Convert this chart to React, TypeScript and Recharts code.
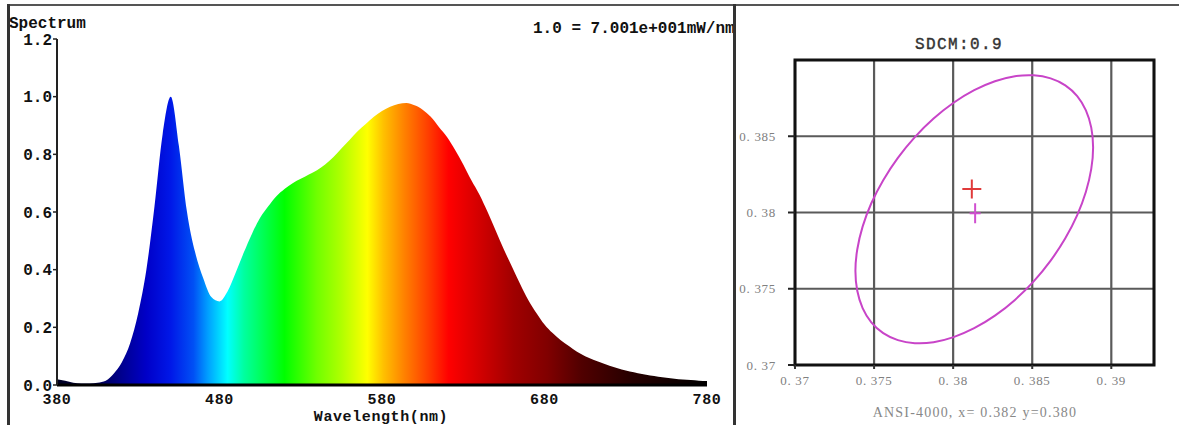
import React from 'react'
import {
    Area,
    AreaChart,
    CartesianGrid,
    ComposedChart,
    Line,
    ReferenceArea,
    ReferenceDot,
    XAxis,
    YAxis,
} from 'recharts'

// spectrum, 5 nm steps
const wavelengths = [
    380, 385, 390, 395, 400, 405, 410, 415, 420, 425, 430, 435, 440, 445, 450, 455, 460, 465, 470, 475,
    480, 485, 490, 495, 500, 505, 510, 515, 520, 525, 530, 535, 540, 545, 550, 555, 560, 565, 570, 575,
    580, 585, 590, 595, 600, 605, 610, 615, 620, 625, 630, 635, 640, 645, 650, 655, 660, 665, 670, 675,
    680, 685, 690, 695, 700, 705, 710, 715, 720, 725, 730, 735, 740, 745, 750, 755, 760, 765, 770, 775, 780,
]
const intensities = [
    0.02, 0.015, 0.008, 0.005, 0.005, 0.008, 0.015, 0.04, 0.08, 0.145, 0.25, 0.4, 0.62, 0.87, 1.0, 0.83, 0.6, 0.46, 0.37, 0.305,
    0.29, 0.325, 0.39, 0.46, 0.525, 0.58, 0.62, 0.655, 0.68, 0.7, 0.715, 0.73, 0.745, 0.765, 0.79, 0.82, 0.85, 0.88, 0.905, 0.93,
    0.95, 0.965, 0.975, 0.978, 0.97, 0.955, 0.93, 0.895, 0.86, 0.815, 0.765, 0.71, 0.66, 0.6, 0.535, 0.47, 0.41, 0.35, 0.295, 0.25,
    0.21, 0.18, 0.155, 0.135, 0.115, 0.1, 0.088, 0.077, 0.067, 0.058, 0.05, 0.044, 0.038, 0.033, 0.029, 0.025, 0.022, 0.019, 0.017, 0.015, 0.014,
]
const wavelengthTicks = [380, 480, 580, 680, 780]
const intensityTicks = [0, 0.2, 0.4, 0.6, 0.8, 1.0, 1.2]

// fill colour by wavelength
const gradientNm = [380, 405, 420, 435, 450, 464, 473, 485, 495, 505, 520, 540, 555, 571, 581, 594, 608, 621, 641, 661, 682, 703, 734, 780]
const gradientColors = [
    '#000020', '#000050', '#000090', '#0000c8', '#0018e8', '#0050f5', '#00a0ff', '#00ffff', '#00ffa0', '#00ff60',
    '#00ff00', '#70ff00', '#b0ff00', '#ffff00', '#ffc000', '#ff8000', '#ff4000', '#ff0000', '#d00000', '#a00000',
    '#800000', '#500000', '#250000', '#000000',
]

// SDCM ellipse (CIE x, y)
const ellipseX = [
    0.38889, 0.38877, 0.38843, 0.38788, 0.38712, 0.38619, 0.38511, 0.38392, 0.38265, 0.38133, 0.38002, 0.37875,
    0.37756, 0.37648, 0.37555, 0.37479, 0.37424, 0.3739, 0.37378, 0.3739, 0.37424, 0.37479, 0.37555, 0.37648,
    0.37756, 0.37875, 0.38002, 0.38133, 0.38265, 0.38392, 0.38511, 0.38619, 0.38712, 0.38788, 0.38843, 0.38877,
]
const ellipseY = [
    0.38429, 0.38287, 0.38136, 0.37983, 0.3783, 0.37683, 0.37546, 0.37424, 0.3732, 0.37237, 0.37179, 0.37145,
    0.37139, 0.37159, 0.37205, 0.37276, 0.3737, 0.37484, 0.37614, 0.37756, 0.37907, 0.38061, 0.38213, 0.3836,
    0.38497, 0.38619, 0.38723, 0.38806, 0.38865, 0.38898, 0.38904, 0.38884, 0.38838, 0.38767, 0.38673, 0.38559,
]
const cieTicksX = [0.37, 0.375, 0.38, 0.385, 0.39]
const cieTicksY = [0.37, 0.375, 0.38, 0.385]
const measuredXY = [0.38118, 0.38154]
const targetXY = [0.38139, 0.37995]

const spectrum = wavelengths.map((nm, i) => ({ nm, value: intensities[i] }))
const ellipse = ellipseX.map((x, i) => ({ x, y: ellipseY[i] }))

const monoBold = { fontFamily: '"Liberation Mono", monospace', fontWeight: 'bold' as const, fontSize: 16, fill: '#111' }
const monoBoldSmall = { ...monoBold, fontSize: 15, letterSpacing: 0.6 }
const serifGray = { fontFamily: '"Liberation Serif", serif', fontSize: 13, fill: '#808080', letterSpacing: 0.7 }

const Plus = (props: any) => {
    const { cx, cy, w, h, color } = props
    if (cx == null || cy == null) return null
    return (
        <g>
            <line x1={cx - w / 2} y1={cy} x2={cx + w / 2} y2={cy} stroke={color} strokeWidth={2} />
            <line x1={cx} y1={cy - h / 2} x2={cx} y2={cy + h / 2} stroke={color} strokeWidth={2} />
        </g>
    )
}

const dotted = (v: number) => String(v).replace('.', '. ')

export default function App() {
    return (
        <div style={{ position: 'absolute', left: 0, top: 0, width: 1179, height: 425, background: '#fff', overflow: 'hidden' }}>
            <div style={{ position: 'absolute', left: 0, top: 0 }}>
                <AreaChart width={734} height={425} data={spectrum} margin={{ top: 39, right: 27, bottom: 10, left: 8 }}>
                    <defs>
                        <linearGradient id="spec" x1="0" y1="0" x2="1" y2="0">
                            {gradientNm.map((nm, i) => (
                                <stop key={nm} offset={(nm - 380) / 400} stopColor={gradientColors[i]} />
                            ))}
                        </linearGradient>
                    </defs>
                    <XAxis
                        dataKey="nm"
                        type="number"
                        domain={[380, 780]}
                        ticks={wavelengthTicks}
                        height={30}
                        tickLine={false}
                        tickSize={5}
                        tickMargin={3}
                        axisLine={{ stroke: '#000', strokeWidth: 3 }}
                        tick={monoBoldSmall}
                    />
                    <YAxis
                        type="number"
                        domain={[0, 1.2]}
                        ticks={intensityTicks}
                        width={49}
                        tickSize={4}
                        tickMargin={1}
                        tickFormatter={(v: number) => v.toFixed(1)}
                        axisLine={{ stroke: '#222', strokeWidth: 2 }}
                        tickLine={{ stroke: '#222', strokeWidth: 1.5 }}
                        tick={monoBold}
                    />
                    <Area
                        type="monotone"
                        dataKey="value"
                        stroke="none"
                        fill="url(#spec)"
                        fillOpacity={1}
                        isAnimationActive={false}
                    />
                </AreaChart>
            </div>
            <div style={{ position: 'absolute', left: 734, top: 0 }}>
                <ComposedChart width={445} height={425} data={ellipse} margin={{ top: 60, right: 25, bottom: 30, left: 0 }}>
                    <CartesianGrid stroke="#5a5a5a" strokeWidth={2.2} />
                    <XAxis
                        dataKey="x"
                        type="number"
                        domain={[0.37, 0.3927]}
                        allowDataOverflow
                        ticks={cieTicksX}
                        height={30}
                        tickSize={4}
                        tickMargin={7}
                        axisLine={false}
                        tickLine={{ stroke: '#333', strokeWidth: 2 }}
                        tickFormatter={dotted}
                        tick={serifGray}
                    />
                    <YAxis
                        dataKey="y"
                        type="number"
                        domain={[0.37, 0.39]}
                        allowDataOverflow
                        ticks={cieTicksY}
                        width={61}
                        tickSize={7}
                        tickMargin={12}
                        axisLine={false}
                        tickLine={{ stroke: '#222', strokeWidth: 2 }}
                        tickFormatter={dotted}
                        tick={serifGray}
                    />
                    <ReferenceArea
                        x1={0.37}
                        x2={0.3927}
                        y1={0.37}
                        y2={0.39}
                        fill="none"
                        fillOpacity={0}
                        stroke="#111"
                        strokeWidth={3}
                    />
                    <Line
                        type="basisClosed"
                        dataKey="y"
                        stroke="#c844c8"
                        strokeWidth={2}
                        dot={false}
                        isAnimationActive={false}
                    />
                    <ReferenceDot
                        x={measuredXY[0]}
                        y={measuredXY[1]}
                        r={10}
                        shape={(p: any) => <Plus cx={p.cx} cy={p.cy} w={19} h={19} color="#e03a3a" />}
                    />
                    <ReferenceDot
                        x={targetXY[0]}
                        y={targetXY[1]}
                        r={10}
                        shape={(p: any) => <Plus cx={p.cx} cy={p.cy} w={11} h={20} color="#d050d0" />}
                    />
                </ComposedChart>
            </div>
            <svg width={1179} height={425} style={{ position: 'absolute', left: 0, top: 0, pointerEvents: 'none' }}>
                <text x={9} y={27.5} {...monoBold}>Spectrum</text>
                <text x={533} y={32.5} {...monoBold}>1.0 = 7.001e+001mW/nm</text>
                <text x={381} y={421} textAnchor="middle" {...monoBoldSmall}>Wavelength(nm)</text>
                <text
                    x={959}
                    y={49}
                    textAnchor="middle"
                    fontFamily='"Liberation Mono", monospace'
                    fontSize={16}
                    letterSpacing={1.4}
                    fill="#333"
                    stroke="#333"
                    strokeWidth={0.4}
                >
                    SDCM:0.9
                </text>
                <text x={975} y={417} textAnchor="middle" fontFamily='"Liberation Serif", serif' fontSize={14} letterSpacing={1.2} fill="#888">
                    ANSI-4000, x= 0.382 y=0.380
                </text>
                <rect x={8} y={4} width={1171} height={2} fill="#555" />
                <rect x={7} y={4} width={3} height={421} fill="#333" />
                <rect x={733} y={4} width={3} height={421} fill="#333" />
            </svg>
        </div>
    )
}
